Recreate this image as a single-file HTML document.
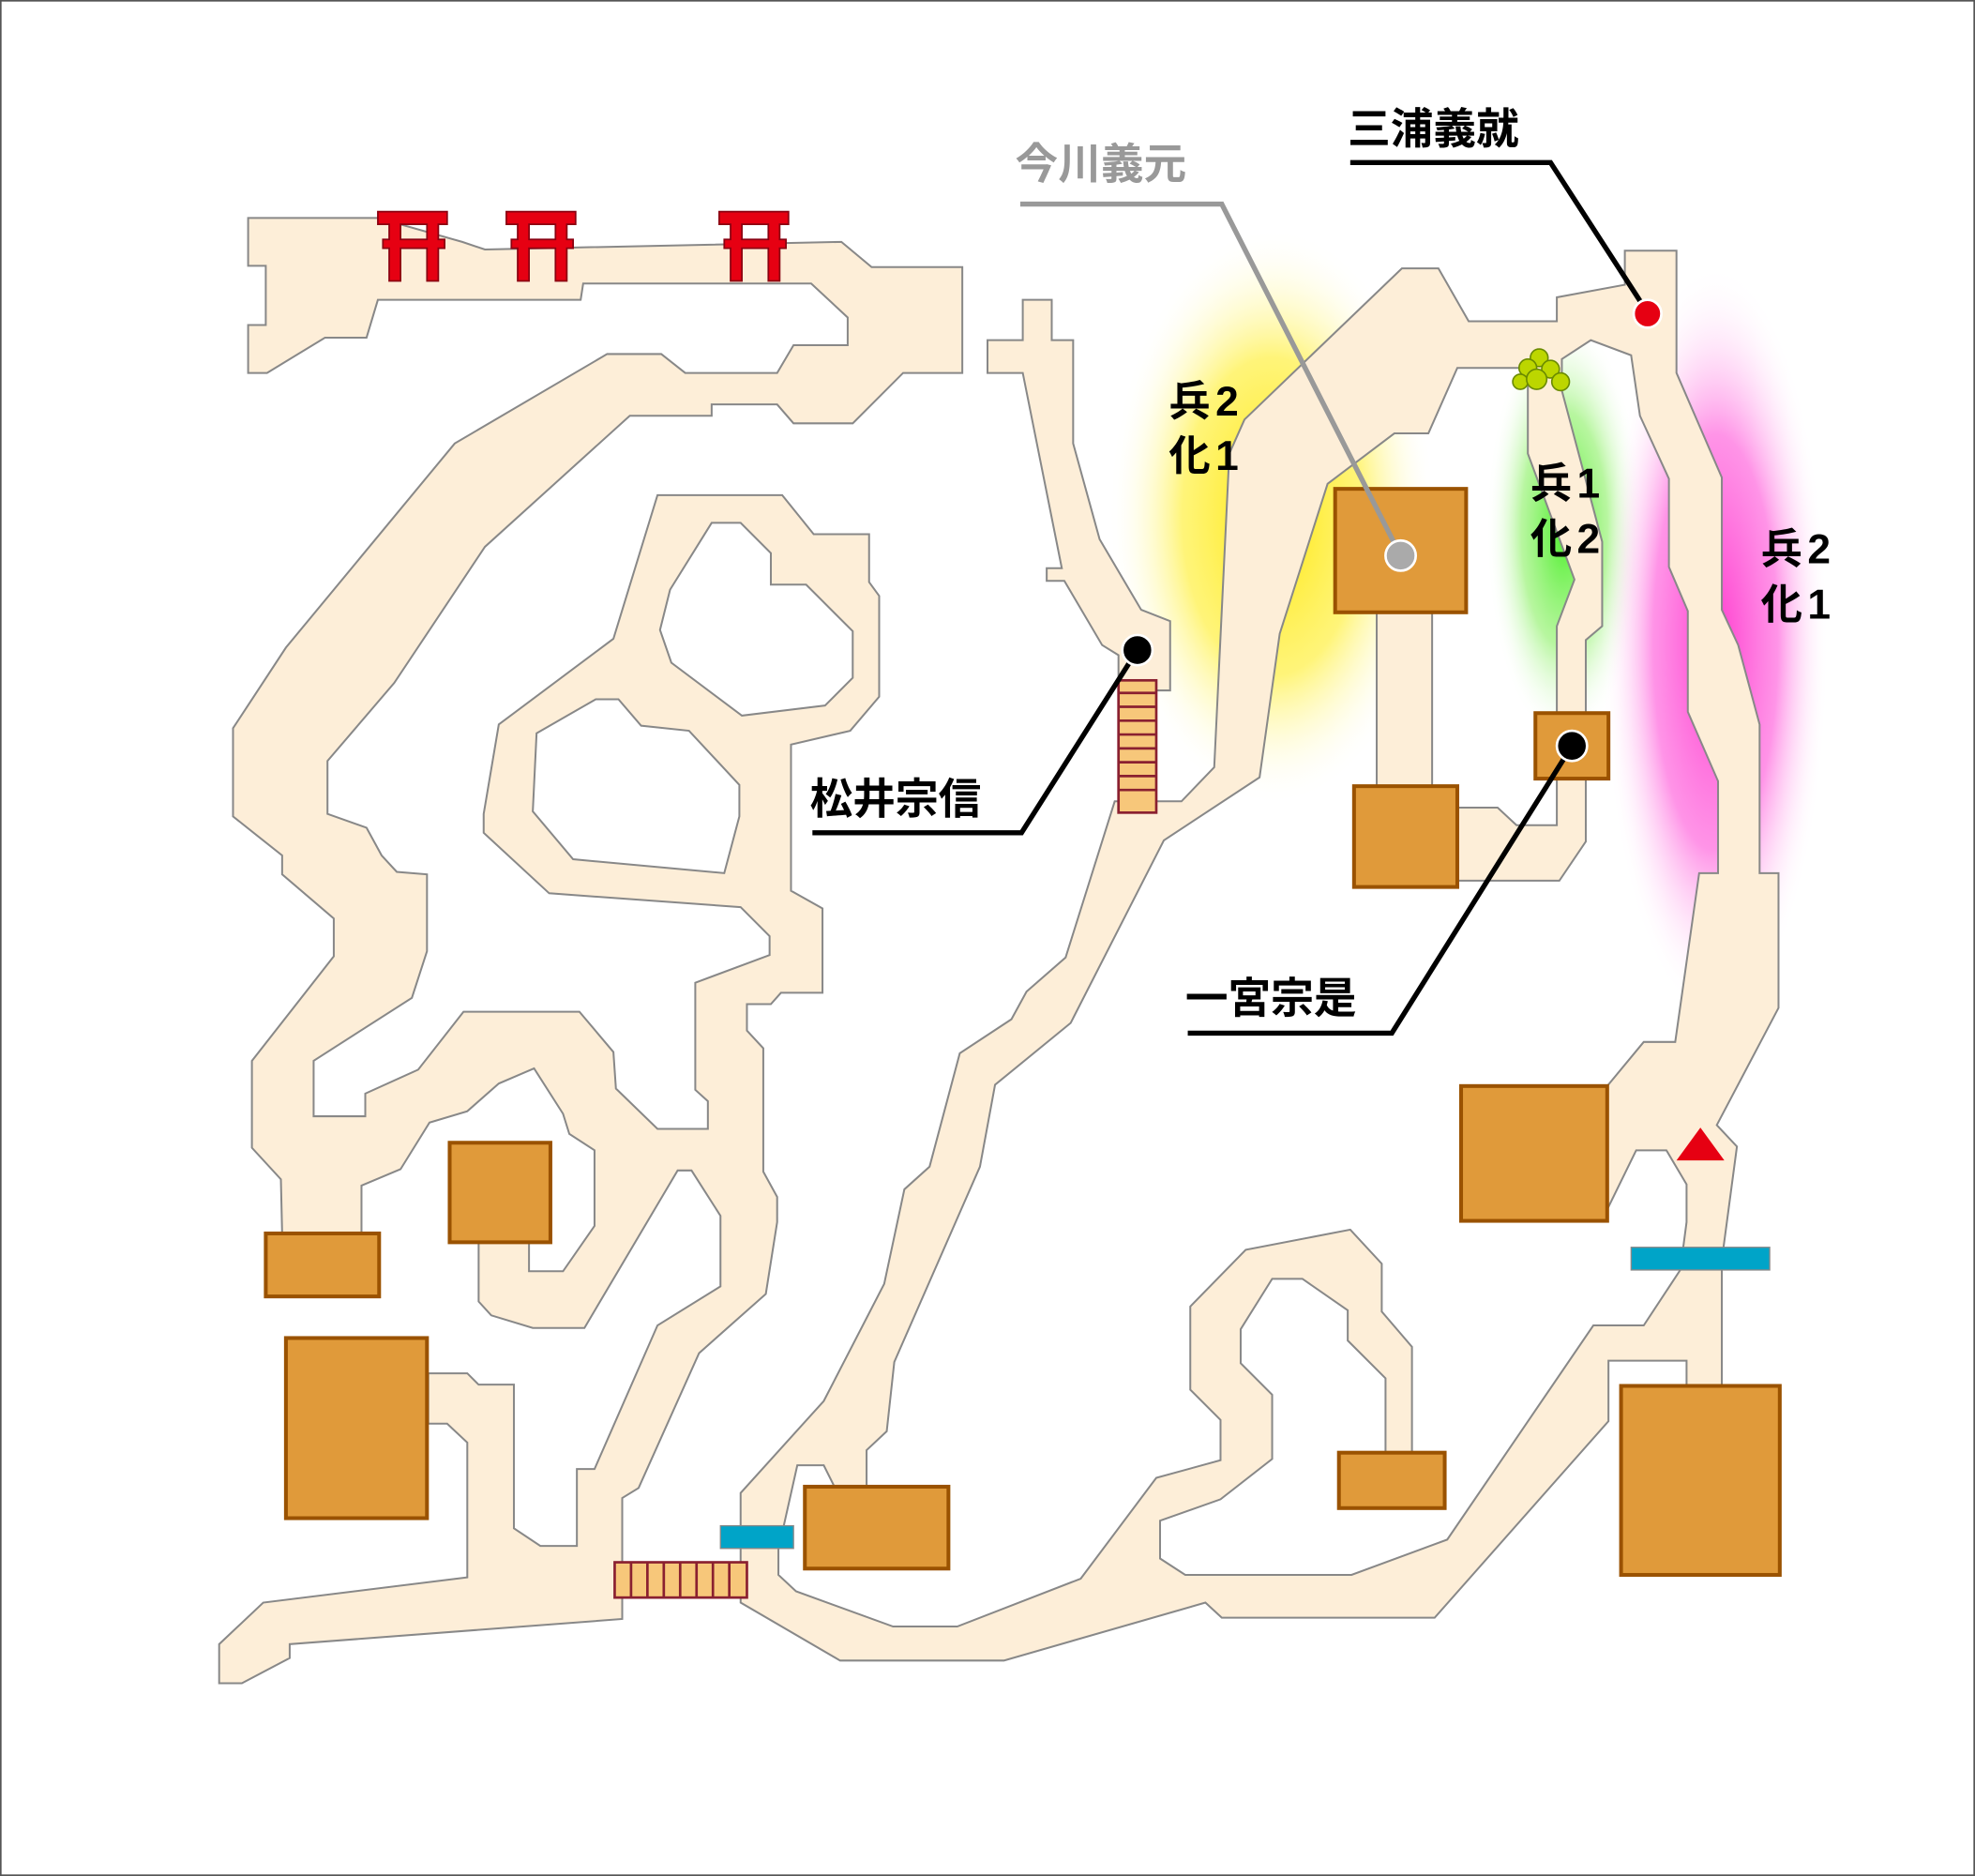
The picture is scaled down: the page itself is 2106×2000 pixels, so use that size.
<!DOCTYPE html>
<html><head><meta charset="utf-8"><style>
html,body{margin:0;padding:0;background:#fff}
svg{display:block}
text{font-family:"Liberation Sans","Noto Sans CJK JP",sans-serif;font-weight:bold}
</style></head><body>
<svg width="2106" height="2000" viewBox="0 0 1568 1489" preserveAspectRatio="none" xmlns="http://www.w3.org/2000/svg">
<defs>
<radialGradient id="gy"><stop offset="0" stop-color="#ffe600" stop-opacity="0.95"/><stop offset="0.55" stop-color="#fff040" stop-opacity="0.7"/><stop offset="1" stop-color="#fff" stop-opacity="0"/></radialGradient>
<radialGradient id="gg"><stop offset="0" stop-color="#44ee22" stop-opacity="0.95"/><stop offset="0.55" stop-color="#88f060" stop-opacity="0.6"/><stop offset="1" stop-color="#fff" stop-opacity="0"/></radialGradient>
<radialGradient id="gm"><stop offset="0" stop-color="#ff33cc" stop-opacity="0.95"/><stop offset="0.55" stop-color="#ff66dd" stop-opacity="0.7"/><stop offset="1" stop-color="#fff" stop-opacity="0"/></radialGradient>
</defs>
<rect x="0.5" y="0.5" width="1567" height="1488" fill="#fff" stroke="#555" stroke-width="1.5"/>
<ellipse cx="1010" cy="410" rx="130" ry="230" fill="url(#gy)"/>
<ellipse cx="1242" cy="420" rx="62" ry="170" fill="url(#gg)"/>
<ellipse cx="1362" cy="510" rx="90" ry="300" fill="url(#gm)"/>
<g fill="#fdeed8" stroke="#888" stroke-width="1.5" fill-rule="evenodd">
<path d="M197,173 L300,173 L367,192 L385,198 L668,192 L692,212 L764,212 L764,296 L717,296 L677,336 L630,336 L617,321 L565,321 L565,330 L500,330 L385,434 L313,542 L260,604 L260,646 L291,657 L303,679 L315,692 L339,694 L339,755 L327,792 L249,842 L249,886 L290,886 L290,868 L332,849 L368,803 L460,803 L487,835 L489,864 L522,896 L562,896 L562,874 L552,865 L552,780 L611,758 L611,743 L588,720 L436,709 L384,661 L384,646 L396,575 L487,507 L522,393 L621,393 L646,424 L690,424 L690,462 L698,473 L698,553 L675,580 L628,591 L628,707 L653,721 L653,788 L620,788 L612,797 L593,797 L593,818 L606,832 L606,930 L617,950 L617,970 L608,1027 L555,1074 L507,1181 L494,1189 L494,1285 L230,1305 L230,1316 L192,1336 L174,1336 L174,1305 L209,1272 L371,1252 L371,1145 L355,1130 L340,1130 L340,1090 L371,1090 L380,1099 L408,1099 L408,1213 L429,1227 L458,1227 L458,1166 L472,1166 L522,1052 L572,1021 L572,965 L549,929 L538,929 L464,1054 L423,1054 L390,1044 L380,1033 L380,986 L420,986 L420,1009 L447,1009 L472,973 L472,913 L452,900 L447,884 L424,848 L396,860 L371,882 L341,891 L318,928 L287,941 L287,979 L224,979 L223,936 L200,911 L200,842 L265,759 L265,729 L224,694 L224,679 L185,648 L185,578 L227,514 L361,352 L482,281 L525,281 L544,296 L617,296 L630,274 L673,274 L673,252 L644,225 L463,225 L461,238 L300,238 L291,268 L258,268 L212,296 L197,296 L197,258 L211,258 L211,211 L197,211 Z
M565,415 L588,415 L612,439 L612,464 L640,464 L677,501 L677,538 L655,560 L589,568 L533,526 L524,500 L532,468 Z
M473,555 L491,555 L509,576 L547,580 L587,623 L587,648 L575,693 L455,682 L423,644 L426,582 Z"/>
<path d="M784,270 L812,270 L812,238 L835,238 L835,270 L852,270 L852,352 L873,428 L906,484 L929,493 L929,548 L918,548 L918,540 L888,540 L888,520 L875,512 L845,461 L831,461 L831,451 L843,451 L812,296 L784,296 Z"/>
<path d="M1093,480 L1137,480 L1137,630 L1093,630 Z"/>
<path d="M1150,641 L1189,641 L1204,655 L1236,655 L1236,612 L1259,612 L1259,668 L1238,699 L1150,699 Z"/>
<path d="M919,636 L938,636 L964,609 L976,360 L988,333 L1113,213 L1142,213 L1166,255 L1236,255 L1236,236 L1290,226 L1290,199 L1331,199 L1331,296 L1367,379 L1367,484 L1380,512 L1397,575 L1397,693 L1412,693 L1412,800 L1363,893 L1379,910 L1367,1000 L1367,1105 L1339,1105 L1339,1080 L1277,1080 L1277,1128 L1139,1284 L970,1284 L957,1272 L797,1318 L667,1318 L588,1272 L588,1185 L654,1112 L702,1019 L718,944 L738,926 L762,836 L803,809 L815,787 L846,760 L885,636 Z
M618,1230 L618,1250 L632,1263 L709,1291 L760,1291 L858,1253 L918,1173 L969,1159 L969,1127 L945,1103 L945,1037 L989,992 L1072,976 L1097,1003 L1097,1041 L1121,1069 L1121,1160 L1100,1160 L1100,1094 L1070,1064 L1070,1040 L1034,1015 L1010,1015 L985,1055 L985,1082 L1010,1107 L1010,1158 L969,1190 L921,1207 L921,1237 L941,1250 L1073,1250 L1149,1222 L1265,1052 L1305,1052 L1334,1008 L1339,970 L1339,940 L1323,913 L1299,913 L1276,960 L1276,862 L1305,827 L1330,827 L1349,693 L1364,693 L1364,620 L1340,565 L1340,485 L1325,450 L1325,380 L1302,330 L1295,282 L1263,270 L1240,285 L1240,310 L1272,430 L1272,497 L1259,508 L1259,570 L1236,570 L1236,497 L1250,460 L1213,360 L1213,292 L1157,292 L1134,344 L1107,344 L1054,384 L1016,503 L1000,617 L924,667 L850,812 L790,861 L778,926 L710,1081 L704,1136 L688,1151 L688,1185 L665,1185 L654,1163 L633,1163 Z"/>
</g>
<g fill="#e09a3a" stroke="#9a5200" stroke-width="3">
<rect x="211" y="979" width="90" height="50"/>
<rect x="357" y="907" width="80" height="79"/>
<rect x="227" y="1062" width="112" height="143"/>
<rect x="639" y="1180" width="114" height="65"/>
<rect x="1063" y="1153" width="84" height="44"/>
<rect x="1060" y="388" width="104" height="98"/>
<rect x="1075" y="624" width="82" height="80"/>
<rect x="1219" y="566" width="58" height="52"/>
<rect x="1160" y="862" width="116" height="107"/>
<rect x="1287" y="1100" width="126" height="150"/>
</g>
<g fill="#f7c77a" stroke="#8a2030" stroke-width="2">
<rect x="888" y="540" width="30" height="105"/>
<path d="M888,550H918M888,561H918M888,572H918M888,583H918M888,594H918M888,605H918M888,616H918M888,627H918" fill="none"/>
<rect x="488" y="1240" width="105" height="28"/>
<path d="M501,1240V1268M514,1240V1268M527,1240V1268M540,1240V1268M553,1240V1268M566,1240V1268M579,1240V1268" fill="none"/>
</g>
<g fill="none" stroke="#00000000"></g>
<g fill="#00a4c8" stroke="#888" stroke-width="1">
<rect x="572" y="1211" width="58" height="18"/>
<rect x="1295" y="990" width="110" height="18"/>
</g>
<polygon points="1331,921 1369,921 1350,895" fill="#e60012"/>
<g fill="#e60012" stroke="#8a0010" stroke-width="1.3">
<path id="t1" d="M300,168 H355 V178 H348 V190 H353 V197 H348 V223 H339 V197 H318 V223 H309 V197 H304 V190 H309 V178 H300 Z M318,178 V190 H339 V178 Z"/>
<use href="#t1" x="102"/>
<use href="#t1" x="271"/>
</g>
<g fill="#bcd600" stroke="#6a8a00" stroke-width="1.2">
<circle cx="1222" cy="284" r="7"/><circle cx="1213" cy="292" r="7"/><circle cx="1231" cy="293" r="7"/>
<circle cx="1207" cy="303" r="6"/><circle cx="1220" cy="301" r="8"/><circle cx="1239" cy="303" r="7"/>
</g>
<g fill="none" stroke-width="4">
<path d="M810,162 H970 L1112,441" stroke="#999"/>
<path d="M1072,129 H1231 L1308,248" stroke="#000"/>
<path d="M645,661 H811 L903,516" stroke="#000"/>
<path d="M943,820 H1105 L1248,592" stroke="#000"/>
</g>
<circle cx="1112" cy="441" r="12" fill="#aaa" stroke="#fff" stroke-width="2"/>
<circle cx="1308" cy="249" r="11" fill="#e60012" stroke="#fff" stroke-width="2"/>
<circle cx="903" cy="516" r="12" fill="#000" stroke="#fff" stroke-width="2"/>
<circle cx="1248" cy="592" r="12" fill="#000" stroke="#fff" stroke-width="2"/>
<g font-size="34">
<text x="806" y="142" fill="#999">今川義元</text>
<text x="1070" y="114" fill="#000">三浦義就</text>
<text x="643" y="646" fill="#000">松井宗信</text>
<text x="941" y="804" fill="#000">一宮宗是</text>
</g>
<g font-size="33" letter-spacing="4">
<text x="928" y="330">兵2</text><text x="928" y="373">化1</text>
<text x="1215" y="395">兵1</text><text x="1215" y="439">化2</text>
<text x="1398" y="447">兵2</text><text x="1398" y="491">化1</text>
</g>
</svg>
</body></html>
